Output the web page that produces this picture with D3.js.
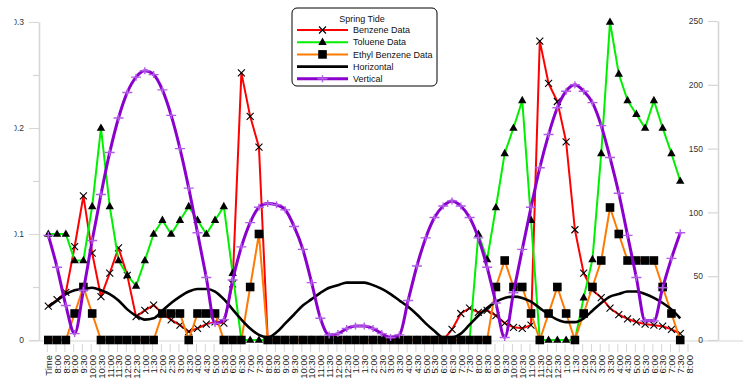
<!DOCTYPE html>
<html>
<head>
<meta charset="utf-8">
<script src="https://cdn.jsdelivr.net/npm/d3@7"></script>
<style>
  body { margin: 0; background: #fff; }
  svg { display: block; font-family: "Liberation Sans", Arial, sans-serif; }
</style>
</head>
<body>
<svg id="chart" width="750" height="382"></svg>
<script>
// category labels (first one is the header cell that ended up on the axis)
const times = ["Time",
  "8:00","8:30","9:00","9:30","10:00","10:30","11:00","11:30","12:00","12:30","1:00","1:30",
  "2:00","2:30","3:00","3:30","4:00","4:30","5:00","5:30","6:00","6:30","7:00","7:30",
  "8:00","8:30","9:00","9:30","10:00","10:30","11:00","11:30","12:00","12:30","1:00","1:30",
  "2:00","2:30","3:00","3:30","4:00","4:30","5:00","5:30","6:00","6:30","7:00","7:30",
  "8:00","8:30","9:00","9:30","10:00","10:30","11:00","11:30","12:00","12:30","1:00","1:30",
  "2:00","2:30","3:00","3:30","4:00","4:30","5:00","5:30","6:00","6:30","7:00","7:30",
  "8:00"];

// left axis series
const benzene = [0.032,0.038,0.045,0.088,0.136,0.082,0.041,0.063,0.087,0.061,0.022,0.028,0.033,
  0.025,0.019,0.014,0.008,0.011,0.015,0.017,0.016,0.053,0.252,0.211,0.182,
  0,0,0,0,0,0,0,0,0,0,0,0,0,0,0,0,0,0,0,0,0,
  0.01,0.025,0.03,0.026,0.028,0.023,0.016,0.012,0.011,0.014,0.282,0.242,0.225,0.187,0.104,
  0.063,0.047,0.04,0.03,0.024,0.02,0.017,0.015,0.014,0.013,0.01,0.006];

const toluene = [0.1,0.1,0.1,0.075,0.075,0.126,0.2,0.126,0.075,0.061,0.051,0.075,0.1,0.113,0.1,
  0.113,0.126,0.113,0.1,0.113,0.126,0.063,
  0,0,0,0,0,0,0,0,0,0,0,0,0,0,0,0,0,0,0,0,0,0,0,0,0,0,0,
  0.1,0.076,0.125,0.176,0.2,0.226,0.113,0,0,0,0,0,0.04,0.076,0.176,0.3,0.251,0.226,0.213,
  0.2,0.226,0.2,0.176,0.15];

const ethylBenzene = [0,0,0,0.025,0.05,0.025,0,0,0,0,0,0,0,0.025,0.025,0.025,0,0.025,0.025,0.025,
  0,0,0,0.05,0.1,
  0,0,0,0,0,0,0,0,0,0,0,0,0,0,0,0,0,0,0,0,0,0,0,0,0,0,
  0.05,0.075,0.05,0.05,0.025,0,0.025,0.05,0.025,0,0.025,0.05,0.075,0.125,0.1,0.075,0.075,
  0.075,0.075,0.05,0.025,0];

// right axis series
const horizontal = [26,31,36,39,40,41,39,36,31,24,19,16,17,23,29,34,38,40,40,38,32,24,16,9,4,2,
  6,13,20,27,32,37,41,43,45,45,45,43,40,36,31,26,20,13,7,2,2,5,12,19,25,30,33,34,33,30,25,20,
  16,14,14,17,23,29,34,36,38,38,36,33,29,24,17];

const vertical = [82,57,27,5,39,78,114,147,174,194,206,211,208,196,176,150,119,84,49,13,16,47,73,
  92,104,107,106,102,89,71,45,17,4,5,9,11,11,9,5,2,4,31,58,80,96,105,109,105,96,80,57,29,2,37,
  71,104,135,161,182,195,200,195,186,168,143,115,82,49,15,15,41,64,84];

const leftTicks = [0, 0.1, 0.2, 0.3];
const leftMinor = [0.05, 0.15, 0.25];
const rightTicks = [0, 50, 100, 150, 200, 250];

const svg = d3.select('#chart');
const AXIS_GREY = '#d6d6d6';

const x = d3.scalePoint().domain(d3.range(times.length)).range([48.3, 689]);
const yL = d3.scaleLinear().domain([0, 0.3]).range([340, 22]);
const yR = d3.scaleLinear().domain([0, 250]).range([340, 21]);

// the left labels are cut off at the image edge in the original
// (clip rect is in the axis group's own coordinates, i.e. shifted by -39)
svg.append('clipPath').attr('id', 'leftClip')
  .append('rect').attr('x', 14.5 - 39).attr('y', 0).attr('width', 60).attr('height', 382);

// baseline
svg.append('line')
  .attr('x1', 29).attr('x2', 743).attr('y1', 341).attr('y2', 341)
  .attr('stroke', AXIS_GREY).attr('stroke-width', 1.2);

let styleAxis = (g) => {
  g.select('.domain').attr('stroke', AXIS_GREY).attr('stroke-width', 1.6);
  g.selectAll('.tick line').attr('stroke', AXIS_GREY).attr('stroke-width', 1.2);
  g.selectAll('.tick text').attr('fill', '#333').style('font-size', '8.5px');
};

// left axis
svg.append('g')
  .attr('transform', 'translate(39,0)')
  .attr('clip-path', 'url(#leftClip)')
  .call(d3.axisLeft(yL).tickValues(leftTicks).tickSize(10).tickSizeOuter(0).tickPadding(5)
    .tickFormat(d => d === 0 ? '0' : d.toFixed(1)))
  .call(styleAxis);

svg.append('g')
  .attr('transform', 'translate(39,0)')
  .call(d3.axisLeft(yL).tickValues(leftMinor).tickSize(6).tickSizeOuter(0).tickFormat(''))
  .call(g => g.select('.domain').remove())
  .call(styleAxis);

// right axis (labels sit left of the line)
svg.append('g')
  .attr('transform', 'translate(718,0)')
  .call(d3.axisLeft(yR).tickValues(rightTicks).tickSize(10).tickSizeOuter(0).tickPadding(5))
  .call(styleAxis);

// category axis
svg.append('g')
  .attr('transform', 'translate(-1.5,344)')
  .call(d3.axisBottom(x).tickSize(8).tickFormat(i => times[i]))
  .call(g => g.select('.domain').remove())
  .call(g => g.selectAll('.tick line').attr('stroke', AXIS_GREY).attr('stroke-width', 1))
  .call(g => g.selectAll('.tick text')
    .attr('transform', 'rotate(-90)')
    .attr('x', -11).attr('y', 1.5).attr('dy', '0.35em')
    .attr('text-anchor', 'end')
    .attr('fill', '#222')
    .style('font-size', '9.5px'));

// markers
let drawMarker = (g, type, cx, cy) => {
  if (type === 'x') {
    g.append('path')
      .attr('d', `M${cx-3.5},${cy-3.5}L${cx+3.5},${cy+3.5}M${cx-3.5},${cy+3.5}L${cx+3.5},${cy-3.5}`)
      .attr('stroke', '#000').attr('stroke-width', 1.1).attr('fill', 'none');
  } else if (type === 'triangle') {
    g.append('path')
      .attr('d', `M${cx},${cy-4.6}L${cx+4.2},${cy+2.8}L${cx-4.2},${cy+2.8}Z`)
      .attr('fill', '#000');
  } else if (type === 'square') {
    g.append('rect')
      .attr('x', cx - 4.3).attr('y', cy - 4.3).attr('width', 8.6).attr('height', 8.6)
      .attr('fill', '#000');
  } else if (type === 'plus') {
    g.append('path')
      .attr('d', `M${cx-5},${cy}L${cx+5},${cy}M${cx},${cy-3.5}L${cx},${cy+3.5}`)
      .attr('stroke', '#b35be8').attr('stroke-width', 1.4).attr('fill', 'none');
  }
};

const series = [
  {name: 'Benzene Data', values: benzene, y: yL, color: '#ff0000', width: 2, marker: 'x', curve: d3.curveLinear},
  {name: 'Toluene Data', values: toluene, y: yL, color: '#00f000', width: 2, marker: 'triangle', curve: d3.curveLinear},
  {name: 'Ethyl Benzene Data', values: ethylBenzene, y: yL, color: '#ff7a00', width: 2, marker: 'square', curve: d3.curveLinear},
  {name: 'Horizontal', values: horizontal, y: yR, color: '#000000', width: 2.6, marker: null, curve: d3.curveMonotoneX},
  {name: 'Vertical', values: vertical, y: yR, color: '#8a00cc', width: 3, marker: 'plus', curve: d3.curveMonotoneX}
];

series.forEach(s => {
  let g = svg.append('g');
  let line = d3.line()
    .x((d, i) => x(i))
    .y(d => s.y(d))
    .curve(s.curve);
  g.append('path')
    .datum(s.values)
    .attr('d', line)
    .attr('fill', 'none')
    .attr('stroke', s.color)
    .attr('stroke-width', s.width)
    .attr('stroke-linejoin', 'round');
  if (s.marker) {
    s.values.forEach((v, i) => drawMarker(g, s.marker, x(i), s.y(v)));
  }
});

// legend
const legend = svg.append('g').attr('transform', 'translate(292,8)');
legend.append('rect')
  .attr('width', 145).attr('height', 78).attr('rx', 5)
  .attr('fill', '#fff').attr('stroke', '#000').attr('stroke-width', 1);
legend.append('text')
  .attr('x', 70).attr('y', 14).attr('text-anchor', 'middle')
  .style('font-size', '9px').attr('fill', '#111')
  .text('Spring Tide');

series.forEach((s, i) => {
  let ly = 22 + i * 12.2;
  legend.append('line')
    .attr('x1', 5).attr('x2', 56).attr('y1', ly).attr('y2', ly)
    .attr('stroke', s.color).attr('stroke-width', s.width);
  if (s.marker) drawMarker(legend, s.marker, 30.5, ly);
  legend.append('text')
    .attr('x', 61).attr('y', ly + 3.2)
    .style('font-size', '9px').attr('fill', '#111')
    .text(s.name);
});
</script>
</body>
</html>
